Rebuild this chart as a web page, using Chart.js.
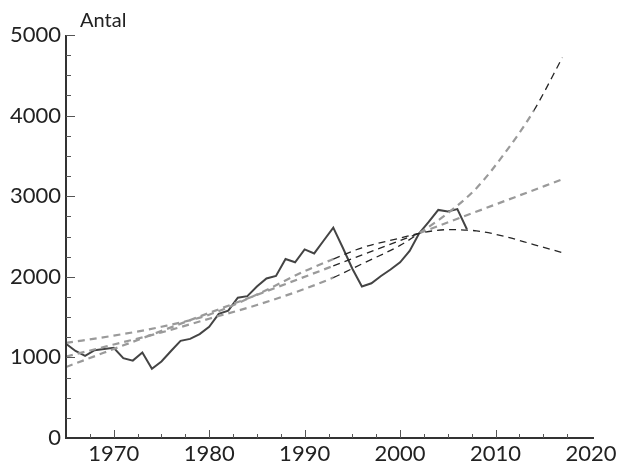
<!DOCTYPE html>
<html>
<head>
<meta charset="utf-8">
<script src="https://cdn.jsdelivr.net/npm/chart.js@4.4.1/dist/chart.umd.min.js"></script>
<style>
  html, body { margin: 0; padding: 0; background: #fff; }
</style>
</head>
<body>
<canvas id="chart" width="622" height="467"></canvas>
<script>
// observed counts, one per year
var years = [1965, 1966, 1967, 1968, 1969, 1970, 1971, 1972, 1973, 1974,
             1975, 1976, 1977, 1978, 1979, 1980, 1981, 1982, 1983, 1984,
             1985, 1986, 1987, 1988, 1989, 1990, 1991, 1992, 1993, 1994,
             1995, 1996, 1997, 1998, 1999, 2000, 2001, 2002, 2003, 2004,
             2005, 2006, 2007];
var antal = [1170, 1080, 1020, 1090, 1105, 1120, 990, 960, 1060, 860,
             950, 1080, 1205, 1230, 1290, 1380, 1540, 1580, 1740, 1760,
             1880, 1980, 2010, 2220, 2180, 2340, 2290, 2450, 2610, 2360,
             2100, 1880, 1920, 2010, 2090, 2180, 2320, 2540, 2680, 2830,
             2810, 2840, 2590];

// trend curves
var trendYears = [1965, 1970, 1975, 1980, 1985, 1990, 1993, 1996, 2000, 2002,
                  2005, 2008, 2011, 2014, 2017];
var trendFlat = [1180, 1270, 1380, 1530, 1780, 2070, 2220, 2360, 2480, 2540,
                 2585, 2570, 2500, 2400, 2300];
var trendRise = [1010, 1160, 1310, 1480, 1650, 1850, 1990, 2160, 2390, 2540,
                 2790, 3100, 3540, 4060, 4720];
var linearYears = [1965, 1993, 2002, 2017];
var trendLinear = [880, 2135, 2540, 3210];

var yTicks = [0, 1000, 2000, 3000, 4000, 5000];
var xTicks = [1970, 1980, 1990, 2000, 2010, 2020];

var GRAY = '#9a9a9a';
var DARK = '#262626';
var FONT = 'Lato';

function pts(xs, ys) {
  return xs.map(function (x, i) { return { x: x, y: ys[i] }; });
}

function segColor(kind) {
  return function (ctx) {
    var x0 = ctx.p0.parsed.x;
    if (x0 >= 1993 && x0 < 2002) return DARK;
    if (kind === 'flat' && x0 >= 2002) return DARK;
    if (kind === 'rise' && x0 >= 2014) return DARK;
    return GRAY;
  };
}
function segWidth(kind) {
  var col = segColor(kind);
  return function (ctx) { return col(ctx) === DARK ? 1.3 : 2.2; };
}

function trendSet(xs, ys, kind) {
  return {
    data: pts(xs, ys),
    borderColor: GRAY,
    borderWidth: 2,
    borderDash: [7, 5],
    pointRadius: 0,
    cubicInterpolationMode: 'monotone',
    segment: { borderColor: segColor(kind), borderWidth: segWidth(kind) }
  };
}

// axes drawn by hand so the ticks point inwards like the original
var axesPlugin = {
  id: 'axes',
  afterDatasetsDraw: function (chart) {
    var c = chart.ctx, xs = chart.scales.x, ys = chart.scales.y;
    var left = xs.getPixelForValue(1965), bottom = ys.getPixelForValue(0);
    var top = ys.getPixelForValue(5000), right = xs.getPixelForValue(2020);
    c.save();
    c.strokeStyle = '#333';
    c.lineWidth = 2;
    c.beginPath();
    c.moveTo(left, top);
    c.lineTo(left, bottom);
    c.lineTo(right + 3, bottom);
    c.stroke();

    c.lineWidth = 1;
    c.strokeStyle = '#555';
    for (var v = 250; v <= 5000; v += 250) {
      var py = Math.round(ys.getPixelForValue(v)) + 0.5;
      var len = v % 1000 === 0 ? 9 : 5;
      c.beginPath();
      c.moveTo(left, py);
      c.lineTo(left + len, py);
      c.stroke();
    }
    for (var yr = 1967.5; yr <= 2017.5; yr += 2.5) {
      var px = Math.round(xs.getPixelForValue(yr)) + 0.5;
      var l2 = yr % 10 === 0 ? 8 : 4;
      c.beginPath();
      c.moveTo(px, bottom);
      c.lineTo(px, bottom - l2);
      c.stroke();
    }

    c.fillStyle = '#222';
    c.font = '20px ' + FONT;
    c.textBaseline = 'alphabetic';
    c.fillText('Antal', left + 14, top - 8);
    c.restore();
  }
};

function plain(v) { return String(v); }

new Chart(document.getElementById('chart'), {
  type: 'line',
  data: {
    datasets: [
      trendSet(trendYears, trendFlat, 'flat'),
      trendSet(linearYears, trendLinear, 'linear'),
      trendSet(trendYears, trendRise, 'rise'),
      {
        data: pts(years, antal),
        borderColor: '#444',
        borderWidth: 2,
        pointRadius: 0,
        tension: 0
      }
    ]
  },
  options: {
    responsive: false,
    animation: false,
    devicePixelRatio: 1,
    layout: { padding: { left: 0, right: 31, top: 35, bottom: 0 } },
    plugins: { legend: { display: false }, tooltip: { enabled: false } },
    scales: {
      x: {
        type: 'linear',
        min: 1965,
        max: 2020,
        afterFit: function (s) { s.height = 29; },
        afterBuildTicks: function (s) { s.ticks = xTicks.map(function (v) { return { value: v }; }); },
        grid: { display: false, drawTicks: false },
        border: { display: false },
        ticks: { color: '#222', padding: 3, callback: plain, font: { family: FONT, size: 22 }, maxRotation: 0 }
      },
      y: {
        min: 0,
        max: 5000,
        afterFit: function (s) { s.width = 66; },
        afterBuildTicks: function (s) { s.ticks = yTicks.map(function (v) { return { value: v }; }); },
        grid: { display: false, drawTicks: false },
        border: { display: false },
        ticks: { color: '#222', padding: 5, callback: plain, font: { family: FONT, size: 22 } }
      }
    }
  },
  plugins: [axesPlugin]
});
</script>
</body>
</html>
